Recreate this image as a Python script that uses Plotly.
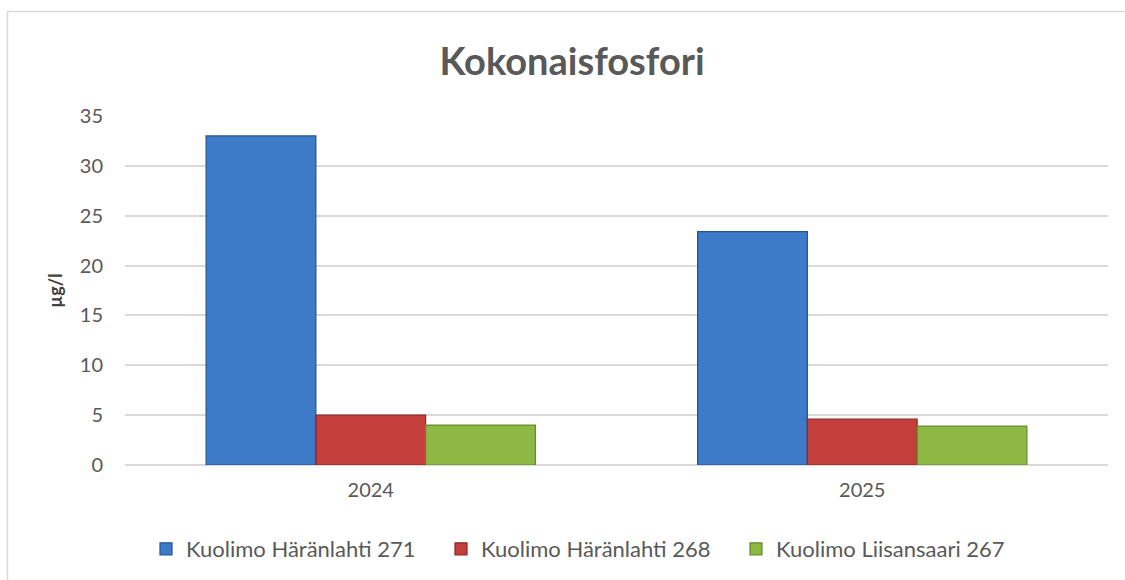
import plotly.graph_objects as go

years = ["2024", "2025"]
series_names = ["Kuolimo Häränlahti 271", "Kuolimo Häränlahti 268", "Kuolimo Liisansaari 267"]
values_271 = [33.0, 23.4]
values_268 = [5.0, 4.6]
values_267 = [4.0, 3.9]
y_ticks = [0, 5, 10, 15, 20, 25, 30, 35]

colors = ["#3D7AC7", "#C43E3B", "#8DB843"]
line_colors = ["#24548F", "#8A2826", "#658A2C"]
series_values = [values_271, values_268, values_267]

FONT = "Lato"
fig = go.Figure()
for name, vals, c, lc in zip(series_names, series_values, colors, line_colors):
    fig.add_trace(go.Bar(
        x=years, y=vals, name=name,
        marker=dict(color=c, line=dict(color=lc, width=1.2)),
    ))

# plot area: x 125..1108, y 116..465
L, R, T, B = 125, 17, 116, 115
W, H = 1125, 580
pw, ph = W - L - R, H - T - B

def px_to_paper_x(px):
    return (px - L) / pw

def px_to_paper_y(py):
    return (H - B - py) / ph

fig.update_layout(
    width=W, height=H,
    margin=dict(l=L, r=R, t=T, b=B, autoexpand=False),
    paper_bgcolor="white", plot_bgcolor="white",
    barmode="group", bargap=0.33, bargroupgap=0.0,
    font=dict(family=FONT, color="#595959"),
    title=dict(text="<b>Kokonaisfosfori</b>", x=572 / W, xanchor="center",
               y=1 - 62 / H, yanchor="middle",
               font=dict(family=FONT, size=38, color="#595959")),
    showlegend=True,
    legend=dict(orientation="h", x=px_to_paper_x(146), xanchor="left",
                y=px_to_paper_y(549), yanchor="middle",
                entrywidth=250, entrywidthmode="pixels",
                font=dict(family=FONT, size=22, color="#595959"),
                itemclick=False, traceorder="normal"),
    xaxis=dict(showgrid=False, showline=False, ticks="",
               tickfont=dict(family=FONT, size=20, color="#595959"),
               ticklabelstandoff=11, fixedrange=True),
    yaxis=dict(range=[0, 35], tickvals=y_ticks, showgrid=True,
               gridcolor="#D9D9D9", gridwidth=1.5, zeroline=True,
               zerolinecolor="#D9D9D9", zerolinewidth=1.5, showline=False,
               ticks="", ticklabelstandoff=21,
               tickfont=dict(family=FONT, size=20, color="#595959"),
               title=dict(text="<b>µg/l</b>", standoff=12,
                          font=dict(family=FONT, size=18, color="#404040")),
               fixedrange=True),
    shapes=[dict(type="rect", xref="paper", yref="paper",
                 x0=px_to_paper_x(7.5), x1=px_to_paper_x(1135),
                 y0=px_to_paper_y(600), y1=px_to_paper_y(11.5),
                 line=dict(color="#D9D9D9", width=1.5), layer="below")],
)

fig.write_html("out.html", config={"displayModeBar": False},
               post_script="document.body.style.margin='0';document.body.style.overflow='hidden';")
